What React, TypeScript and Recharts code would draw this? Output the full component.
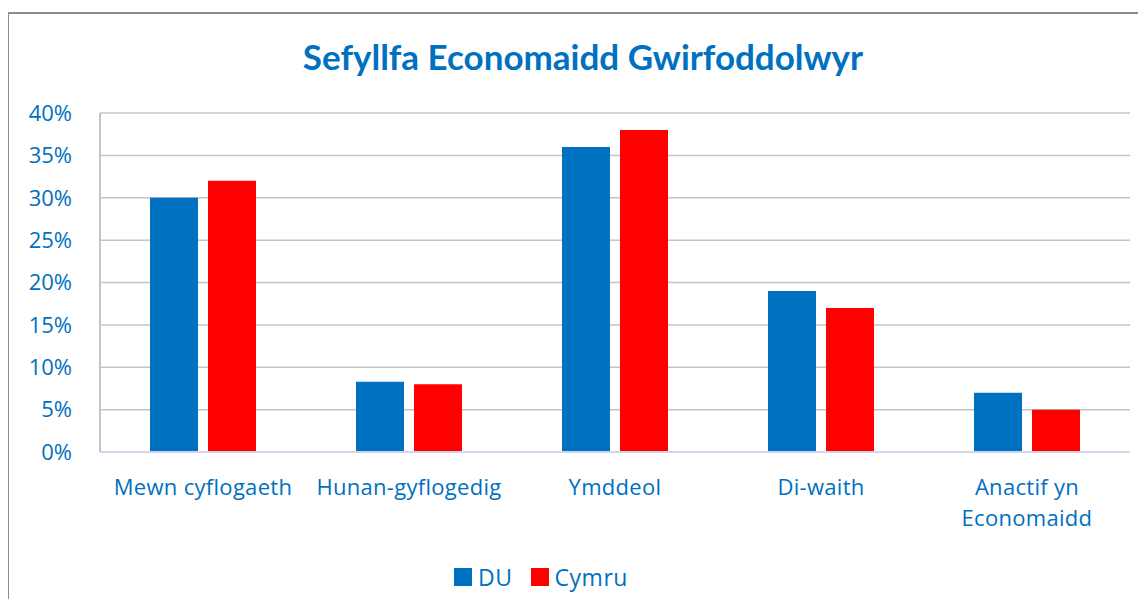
import React from 'react';
import { BarChart, Bar, XAxis, YAxis, CartesianGrid, Legend } from 'recharts';

const categories = ['Mewn cyflogaeth', 'Hunan-gyflogedig', 'Ymddeol', 'Di-waith', 'Anactif yn Economaidd'];
const duValues = [30, 8.3, 36, 19, 7];
const cymruValues = [32, 8, 38, 17, 5];
const yTicks = [0, 5, 10, 15, 20, 25, 30, 35, 40];

const BLUE = '#0070C0';
const RED = '#FF0000';
const FONT = '"Open Sans", sans-serif';

const data = categories.map((name, i) => ({ name, du: duValues[i], cymru: cymruValues[i] }));

// greedy word wrap, ~16 chars per line
const wrapLabel = (label: string) => {
  const lines: string[] = [];
  let cur = '';
  label.split(' ').forEach((w) => {
    const next = cur ? `${cur} ${w}` : w;
    if (next.length > 16 && cur) {
      lines.push(cur);
      cur = w;
    } else {
      cur = next;
    }
  });
  if (cur) lines.push(cur);
  return lines;
};

const CategoryTick = (props: any) => {
  const { x, y, payload } = props;
  const lines = wrapLabel(String(payload.value));
  return (
    <text x={x} y={y} textAnchor="middle" fill={BLUE} fontSize={22} fontFamily={FONT} letterSpacing={0.3}>
      {lines.map((l, i) => (
        <tspan key={i} x={x} dy={i === 0 ? 15 : 31}>
          {l}
        </tspan>
      ))}
    </text>
  );
};

const LegendBox = () => (
  <div style={{ display: 'flex', justifyContent: 'center', alignItems: 'center', height: 30, fontFamily: FONT, fontSize: 23, color: BLUE, paddingRight: 48, letterSpacing: 0.5 }}>
    <span style={{ width: 18, height: 18, background: BLUE, display: 'inline-block', marginRight: 6 }} />
    <span style={{ marginRight: 18 }}>DU</span>
    <span style={{ width: 18, height: 18, background: RED, display: 'inline-block', marginRight: 6 }} />
    <span>Cymru</span>
  </div>
);

const App: React.FC = () => {
  return (
    <div style={{ position: 'relative', width: 1146, height: 607, margin: -8, overflow: 'hidden', background: '#fff' }}>
      <div style={{ position: 'absolute', left: 7, top: 12, width: 1200, height: 700, border: '2px solid #8C8C8C', boxSizing: 'border-box' }} />
      <div style={{ position: 'absolute', top: 35, left: 0, width: 1166, textAlign: 'center', fontFamily: 'Lato, sans-serif', fontWeight: 700, fontSize: 35, color: BLUE }}>
        Sefyllfa Economaidd Gwirfoddolwyr
      </div>
      <div style={{ position: 'absolute', left: 0, top: 0 }}>
        <BarChart
          width={1146}
          height={607}
          data={data}
          margin={{ top: 113, right: 16, bottom: 15, left: 0 }}
          barGap={10}
          barSize={48}
        >
          <CartesianGrid vertical={false} stroke="#C4C4C4" strokeWidth={1.5} />
          <XAxis
            dataKey="name"
            height={110}
            tickSize={0}
            tickMargin={28}
            interval={0}
            axisLine={{ stroke: '#D6D2EE', strokeWidth: 2 }}
            tick={<CategoryTick />}
          />
          <YAxis
            domain={[0, 40]}
            ticks={yTicks}
            width={100}
            tickSize={0}
            tickMargin={28}
            tickFormatter={(v: number) => `${v}%`}
            axisLine={{ stroke: '#C4C4C4', strokeWidth: 2 }}
            tick={{ fill: BLUE, fontSize: 22, fontFamily: FONT }}
          />
          <YAxis
            yAxisId="right"
            orientation="right"
            width={0}
            tick={false}
            tickLine={false}
            axisLine={{ stroke: '#C4C4C4', strokeWidth: 2 }}
          />
          <Legend verticalAlign="bottom" content={<LegendBox />} />
          <Bar dataKey="du" name="DU" fill={BLUE} isAnimationActive={false} />
          <Bar dataKey="cymru" name="Cymru" fill={RED} isAnimationActive={false} />
        </BarChart>
      </div>
    </div>
  );
};

export default App;
